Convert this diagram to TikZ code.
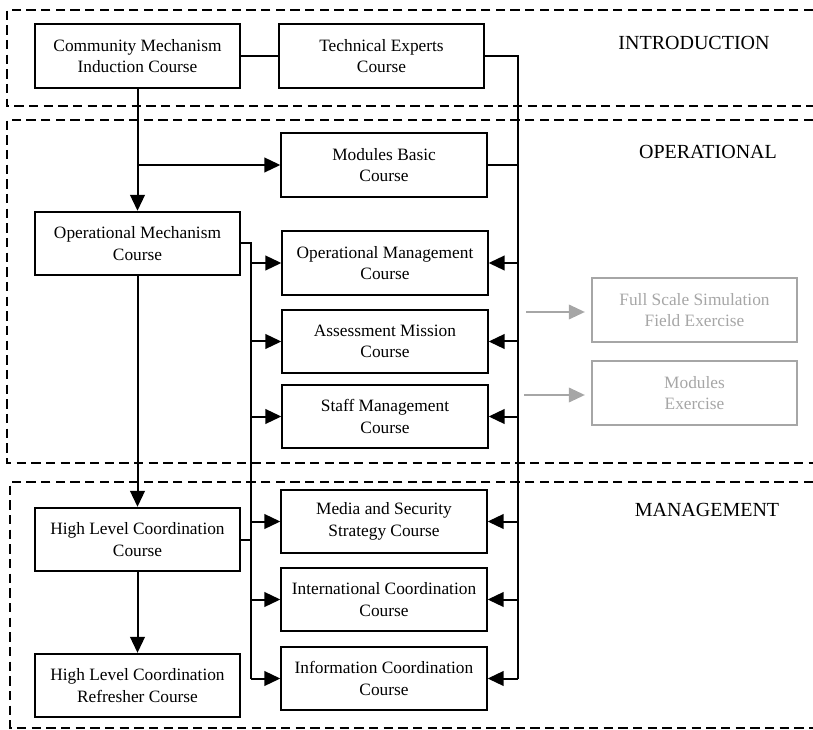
\documentclass[tikz,border=0pt]{standalone}
\usepackage{fontspec}
\setmainfont{Liberation Serif}
\usetikzlibrary{arrows.meta}
\begin{document}
\begin{tikzpicture}[x=0.75pt, y=-0.75pt, line width=1.5pt,
  >={Triangle[length=12pt, width=11pt]},
  course/.style={draw, line width=1.5pt, minimum width=154pt, minimum height=47.5pt,
    inner sep=0pt, align=center, font=\fontsize{13}{16}\selectfont},
  faded/.style={course, draw=black!35, text=black!35},
  region/.style={line width=1.5pt, dash pattern=on 7pt off 4pt},
  zonetitle/.style={font=\fontsize{15}{18}\selectfont}]
  \useasboundingbox (0,0) rectangle (813,730);

  \draw[region] (813,10) -- (7,10) -- (7,106) -- (813,106);
  \draw[region] (813,120) -- (7,120) -- (7,463) -- (813,463);
  \draw[region] (813,482) -- (10,482) -- (10,728) -- (813,728);
  \node[zonetitle](intro) at (694,43){INTRODUCTION};
  \node[zonetitle](oper) at (708,152){OPERATIONAL};
  \node[zonetitle](mgmt) at (707,510){MANAGEMENT};

  \node[course](cmi) at (137.5,56){Community Mechanism\\Induction Course};
  \node[course](tec) at (381.5,56){Technical Experts\\Course};
  \node[course](mbc) at (384,165){Modules Basic\\Course};
  \node[course](omc) at (137.5,243.5){Operational Mechanism\\Course};
  \node[course](opm) at (385,263){Operational Management\\Course};
  \node[course](asm) at (385,341.5){Assessment Mission\\Course};
  \node[course](stf) at (385,416.5){Staff Management\\Course};
  \node[course](hlc) at (137.5,539.5){High Level Coordination\\Course};
  \node[course](hlr) at (137.5,685.5){High Level Coordination\\Refresher Course};
  \node[course](mss) at (384,521.5){Media and Security\\Strategy Course};
  \node[course](icc) at (384,599.5){International Coordination\\Course};
  \node[course](inf) at (384,678.5){Information Coordination\\Course};
  \node[faded](fss) at (694.5,310){Full Scale Simulation\\Field Exercise};
  \node[faded](mex) at (694.5,393){Modules\\Exercise};

  \coordinate (lbus) at (251,242);
  \coordinate (rbus) at (518,56);
  \coordinate (fssin) at (526,312);
  \coordinate (mexin) at (524,395);

  \draw (cmi) -- (tec);
  \draw[->] (cmi) -- (omc);
  \draw[->] (cmi.south |- mbc) -- (mbc);
  \draw[->] (omc) -- (hlc);
  \draw[->] (hlc) -- (hlr);
  \draw (tec) -| (rbus |- inf);
  \draw (mbc) -- (rbus |- mbc);
  \draw (omc) -| (lbus |- inf);
  \draw (hlc) -- (lbus |- hlc);
  \foreach \n in {opm,asm,stf,mss,icc,inf}{
    \draw[->] (lbus |- \n) -- (\n);
    \draw[->] (rbus |- \n) -- (\n);
  }
  \draw[->, black!35, line width=1.2pt, shorten >=4.5pt] (fssin) -- (fss.west |- fssin);
  \draw[->, black!35, line width=1.2pt, shorten >=4.5pt] (mexin) -- (mex.west |- mexin);
\end{tikzpicture}
\end{document}
